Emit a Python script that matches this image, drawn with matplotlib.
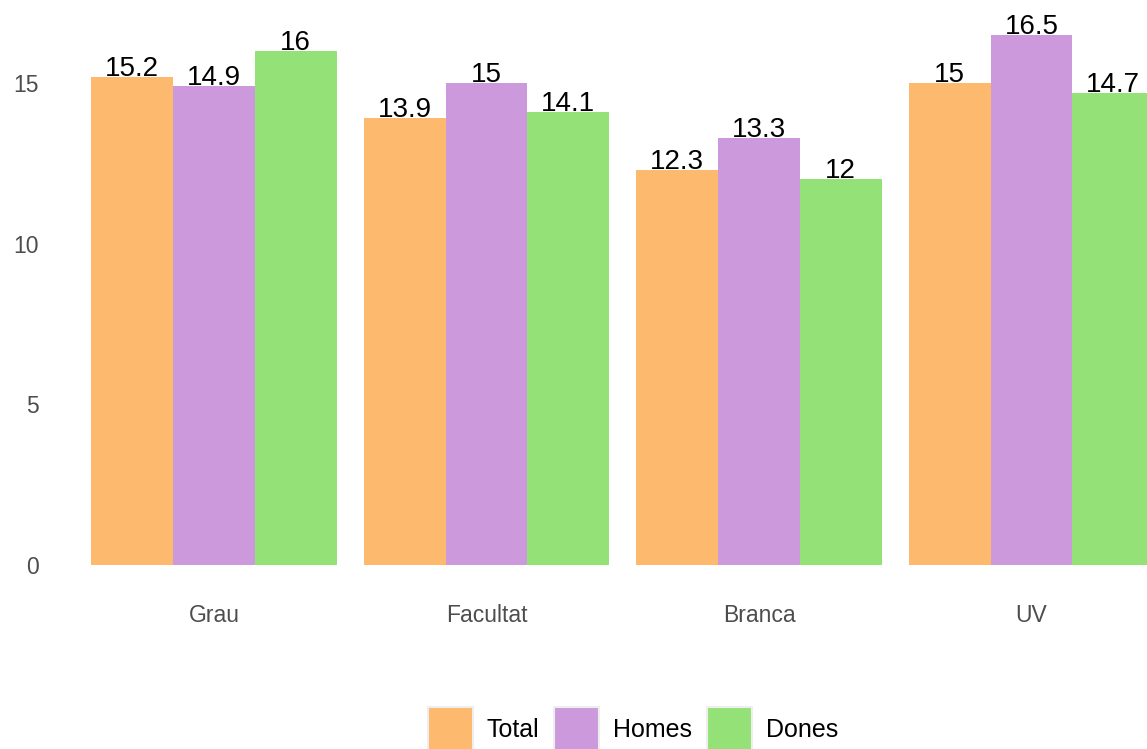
import matplotlib.pyplot as plt
from matplotlib.patches import Patch
import numpy as np

plt.rcParams['font.family'] = ['Liberation Sans', 'DejaVu Sans']

categories = ['Grau', 'Facultat', 'Branca', 'UV']
series_names = ['Total', 'Homes', 'Dones']
total = [15.2, 13.9, 12.3, 15.0]
homes = [14.9, 15.0, 13.3, 16.5]
dones = [16.0, 14.1, 12.0, 14.7]
colors = ['#FDB96E', '#CC99DD', '#94E277']

W, H = 1147, 749
fig = plt.figure(figsize=(W / 100, H / 100), dpi=100)

# axes placed in pixel coordinates
left_px, right_px, top_px, bottom_px = 50, 1147, 0, 590
ax = fig.add_axes([left_px / W, 1 - bottom_px / H,
                   (right_px - left_px) / W, (bottom_px - top_px) / H])

x = np.arange(1, len(categories) + 1)
bw = 0.3
# x=1 at px 214, spacing 272.5 px; y=0 at px 565, 32.13 px per unit
ax.set_xlim(1 + (left_px - 214) / 272.5, 1 + (right_px - 214) / 272.5)
ax.set_ylim((565 - bottom_px) / 32.13, (565 - top_px) / 32.13)

for i, (vals, col) in enumerate(zip([total, homes, dones], colors)):
    pos = x + (i - 1) * bw
    ax.bar(pos, vals, width=bw, color=col, linewidth=0)
    for p, v in zip(pos, vals):
        ax.text(p, v + 0.03, f'{v:g}', ha='center', va='baseline', fontsize=20,
                color='black', clip_on=False)

ax.set_yticks([0, 5, 10, 15])
ax.set_xticks(x)
ax.set_xticklabels(categories)
ax.tick_params(axis='both', length=0, labelsize=16.5, colors='#4d4d4d')
ax.tick_params(axis='x', pad=10)
ax.tick_params(axis='y', pad=8)
for s in ax.spines.values():
    s.set_visible(False)

handles = [Patch(facecolor=c, edgecolor='#eeeeee', linewidth=1.5) for c in colors]
fig.legend(handles, series_names, loc='center', bbox_to_anchor=(0.552, 0.027),
           ncol=3, frameon=False, fontsize=18, handlelength=1.8, handleheight=2.33,
           handletextpad=0.56, columnspacing=0.6, borderpad=0)

fig.savefig('out.png', dpi=100)
